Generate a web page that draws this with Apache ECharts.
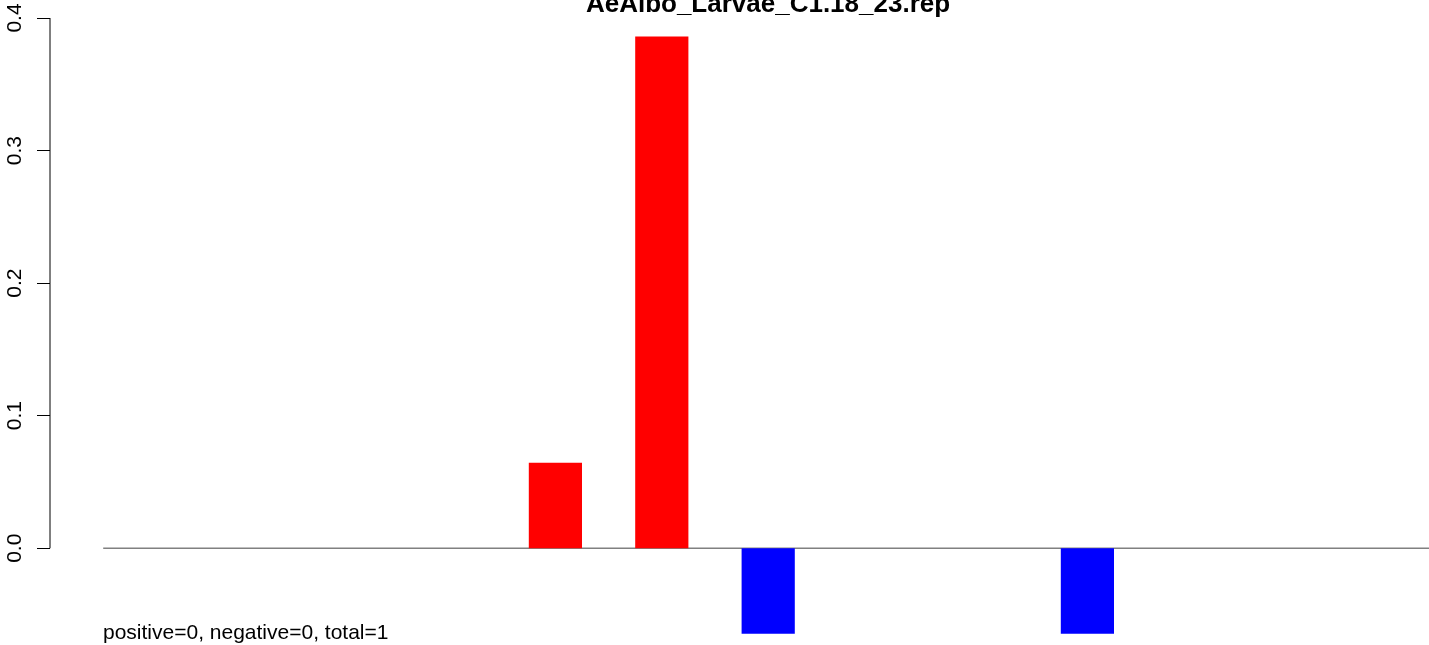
<!DOCTYPE html>
<html>
<head>
<meta charset="utf-8">
<script src="https://cdn.jsdelivr.net/npm/echarts@6/dist/echarts.min.js"></script>
<style>
html,body{margin:0;padding:0;background:#fff;}
#chart{width:1429px;height:645px;}
</style>
</head>
<body>
<div id="chart"></div>
<script>
// ---- data ----
var titleText = "AeAlbo_Larvae_C1.18_23.rep";
var noteText = "positive=0, negative=0, total=1";
var barIndex = [1,2,3,4,5,6,7,8,9,10,11,12,13];
var barValues = [0,0,0,0,0.0644,0.386,-0.0645,0,0,-0.0645,0,0,0];
var yTicks = [0.0, 0.1, 0.2, 0.3, 0.4];
var yTickLabels = ["0.0","0.1","0.2","0.3","0.4"];

// R barplot geometry: width 1, space 1 -> bar i centered at 2i-0.5
var barData = barIndex.map(function(i, k){
  return barValues[k] === 0 ? null : [2*i - 0.5, barValues[k]];
}).filter(function(d){ return d !== null; });
var zeroLine = [[1, 0], [2*barIndex.length, 0]];
var yAxisLine = [[0, yTicks[0]], [0, yTicks[yTicks.length-1]]];

var chart = echarts.init(document.getElementById('chart'), null, {renderer:'canvas'});
var FONT = 'Liberation Sans, Arial, Helvetica, sans-serif';
chart.setOption({
  animation: false,
  backgroundColor: '#ffffff',
  title: [{
    text: titleText,
    left: 768, top: -8, padding: 0,
    textAlign: 'center',
    textStyle: {fontFamily: FONT, fontWeight: 'bold', fontSize: 26, color: '#000'}
  },{
    text: noteText,
    left: 103, top: 623, padding: 0,
    textStyle: {fontFamily: FONT, fontWeight: 'normal', fontSize: 21, color: '#000'}
  }],
  grid: {left: 50, top: 18, right: 0, bottom: 0, containLabel: false},
  xAxis: {
    type: 'value', min: 0, max: 1379/53.2,
    show: false
  },
  yAxis: {
    type: 'value', min: -0.073, max: 0.4,
    axisLine: {show: false},
    splitLine: {show: false},
    axisTick: {show: true, inside: false, length: 13, customValues: yTicks,
      lineStyle: {color: '#000', width: 1}},
    axisLabel: {show: true, rotate: 90, margin: 24, customValues: yTicks,
      formatter: function(v){
        var idx = yTicks.findIndex(function(t){ return Math.abs(t - v) < 1e-9; });
        return idx >= 0 ? yTickLabels[idx] : '';
      },
      fontFamily: FONT, fontSize: 21, color: '#000'}
  },
  series: [{
    type: 'line',
    data: zeroLine,
    symbol: 'none',
    silent: true,
    z: 1,
    lineStyle: {color: '#808080', width: 1.3}
  },{
    type: 'line',
    data: yAxisLine,
    symbol: 'none',
    silent: true,
    z: 3,
    lineStyle: {color: '#000', width: 1}
  },{
    type: 'bar',
    data: barData,
    barWidth: 53.2,
    z: 2,
    itemStyle: {
      color: function(p){ return p.value[1] > 0 ? '#ff0000' : '#0000ff'; }
    }
  }]
});
</script>
</body>
</html>
